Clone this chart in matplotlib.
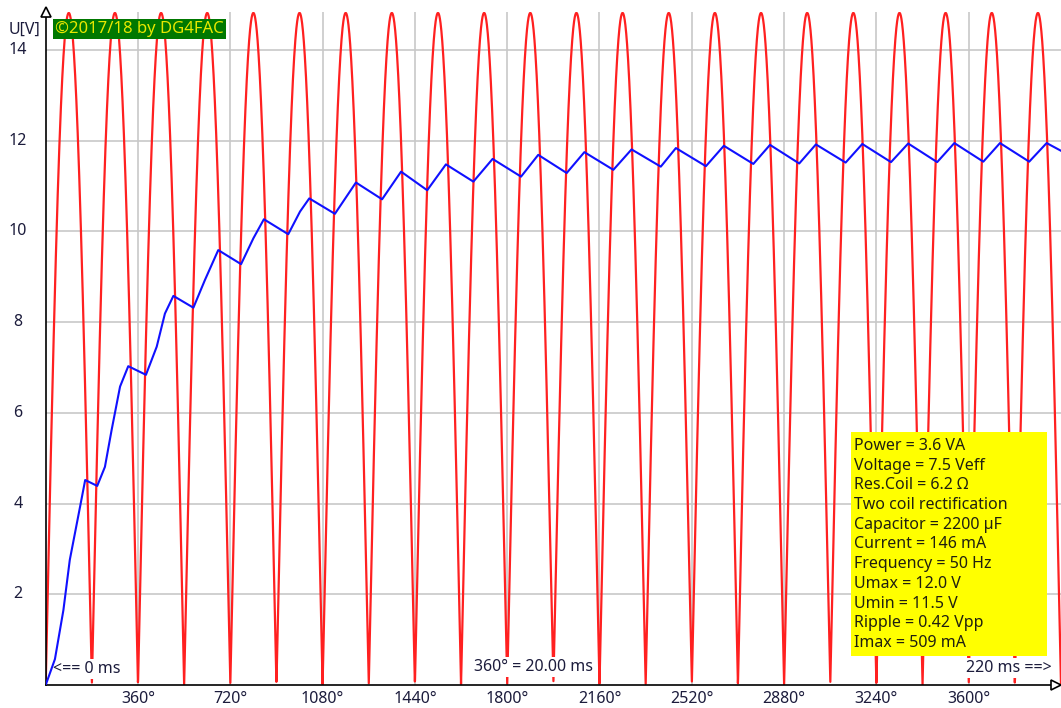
import numpy as np
import matplotlib.pyplot as plt
from matplotlib.patches import Rectangle

W, H = 1061, 708

# capacitor voltage (blue): phase in degrees, volts
cap_deg = [0, 36, 69, 94, 134, 154, 201, 231, 257, 290, 322, 391, 433, 465, 498,
           576, 621, 673, 762, 810, 851, 946, 992, 1028, 1128, 1210, 1312, 1386,
           1488, 1561, 1668, 1743, 1854, 1921, 2032, 2101, 2214, 2285, 2399, 2458,
           2575, 2645, 2760, 2825, 2939, 3004, 3120, 3185, 3297, 3364, 3477, 3544,
           3657, 3722, 3836, 3904, 3960]
cap_volt = [0.0, 0.57, 1.65, 2.76, 3.93, 4.52, 4.39, 4.81, 5.62, 6.58, 7.03, 6.84,
            7.46, 8.19, 8.58, 8.32, 8.93, 9.59, 9.28, 9.85, 10.27, 9.94, 10.44,
            10.73, 10.39, 11.08, 10.71, 11.32, 10.91, 11.48, 11.10, 11.60, 11.21,
            11.69, 11.29, 11.75, 11.36, 11.81, 11.43, 11.84, 11.44, 11.89, 11.49,
            11.91, 11.50, 11.92, 11.52, 11.93, 11.53, 11.94, 11.53, 11.95, 11.54,
            11.95, 11.54, 11.95, 11.78]

# rectified transformer voltage (red): peak, 50 Hz -> 360 deg = 20 ms
red_peak = 14.82
x_max = 3960

x_ticks = [360, 720, 1080, 1440, 1800, 2160, 2520, 2880, 3240, 3600]
y_ticks = [2, 4, 6, 8, 10, 12, 14]

info_lines = ['Power = 3.6 VA', 'Voltage = 7.5 Veff', 'Res.Coil = 6.2 \u03a9',
              'Two coil rectification', 'Capacitor = 2200 \u00b5F', 'Current = 146 mA',
              'Frequency = 50 Hz', 'Umax = 12.0 V', 'Umin = 11.5 V',
              'Ripple = 0.42 Vpp', 'Imax = 509 mA']

plt.rcParams['font.family'] = ['Noto Sans', 'DejaVu Sans']
txt_col = '#1c1c3c'
fs = 11.5
white_bg = dict(boxstyle='square,pad=0.1', fc='white', ec='none')


def px(x, y):
    return x / W, 1 - y / H


fig = plt.figure(figsize=(W / 100, H / 100), dpi=100)
x0, y0, x1, y1 = 45.7, 685, 1061, 12
ax = fig.add_axes([x0 / W, 1 - y0 / H, (x1 - x0) / W, (y0 - y1) / H])

deg = np.linspace(0, x_max, 6000)
red = red_peak * np.abs(np.sin(np.radians(deg)))
ax.plot(deg, red, color='#ff2020', lw=1.6, zorder=2)
ax.plot(cap_deg, cap_volt, color='#1010ff', lw=1.5, zorder=3)

ax.set_xlim(0, x_max)
ax.set_ylim(0, (y0 - y1) / 45.35)
ax.set_xticks(x_ticks)
ax.set_yticks(y_ticks)
ax.grid(True, color='#c8c8c8', lw=1.2, zorder=0)
ax.set_axisbelow(True)
ax.tick_params(length=0, labelleft=False, labelbottom=False)
for s in ['top', 'right']:
    ax.spines[s].set_visible(False)
ax.spines['left'].set_color('black')
ax.spines['bottom'].set_color('black')
ax.spines['left'].set_linewidth(1.2)
ax.spines['bottom'].set_linewidth(1.2)

# arrow heads on the axes
ax.plot([0], [1], marker='^', ms=7, mfc='white', mec='black', mew=1.2,
        transform=ax.transAxes, clip_on=False, zorder=5)
ax.plot([0.995], [0], marker='>', ms=7, mfc='white', mec='black', mew=1.2,
        transform=ax.transAxes, clip_on=False, zorder=5)

# tick labels
for v in y_ticks:
    ax.text(-0.0273, v, str(v), transform=ax.get_yaxis_transform(), ha='center',
            va='center', fontsize=fs, color=txt_col)
for d in x_ticks:
    ax.text(d, -0.021, '%d\u00b0' % d, transform=ax.get_xaxis_transform(),
            ha='center', va='center', fontsize=fs, color=txt_col)

fig.text(*px(24, 30), 'U[V]', ha='center', va='center', fontsize=fs, color=txt_col)

# copyright badge
fig.text(*px(55, 29), '\u00a92017/18 by DG4FAC', ha='left', va='center', fontsize=12,
         color='#e8e800',
         bbox=dict(boxstyle='square,pad=0.12', fc='#007800', ec='none'))

# time notes sit over the red curve but under the blue one
for xp, yp, s, ha in [(53, 669, '<== 0 ms', 'left'),
                      (534, 667, '360\u00b0 = 20.00 ms', 'center'),
                      (1052, 668, '220 ms ==>', 'right')]:
    ax.text(*px(xp, yp), s, transform=fig.transFigure, ha=ha, va='center',
            fontsize=fs, color=txt_col, bbox=white_bg, zorder=2.5)

# info box
bx, by, bw, bh = 851, 432, 196, 224
fig.patches.append(Rectangle((bx / W, 1 - (by + bh) / H), bw / W, bh / H,
                             transform=fig.transFigure, fc='#ffff00', ec='none', zorder=1))
for i, line in enumerate(info_lines):
    fig.text(*px(854, 446 + i * 19.7), line, ha='left', va='center', fontsize=fs,
             color='#202010', zorder=3)

fig.savefig('out.png', dpi=100)
